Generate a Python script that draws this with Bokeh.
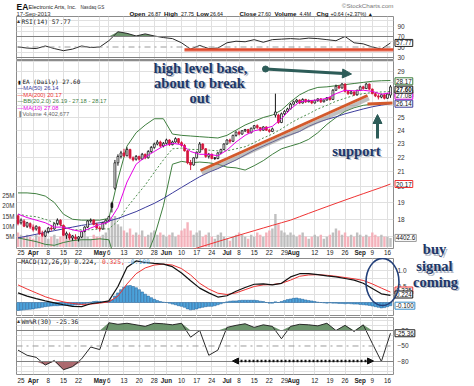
import math
import numpy as np
import pandas as pd
from bokeh.plotting import figure
from bokeh.layouts import column
from bokeh.models import (Range1d, LinearAxis, FixedTicker, ColumnDataSource, Arrow,
                          NormalHead, Span, Grid, LinearScale)
from bokeh.core.properties import value
from bokeh.embed import file_html
from bokeh.resources import INLINE

# ---------------- data ----------------
holidays = ["2013-03-29", "2013-05-27", "2013-07-04", "2013-09-02"]
trade_dates = [d.strftime("%Y-%m-%d") for d in pd.bdate_range("2013-03-22", "2013-09-17")
               if d.strftime("%Y-%m-%d") not in holidays]

tick_dates = ["2013-03-25", "2013-04-01", "2013-04-08", "2013-04-15", "2013-04-22",
              "2013-05-01", "2013-05-06", "2013-05-13", "2013-05-20", "2013-05-28",
              "2013-06-03", "2013-06-10", "2013-06-17", "2013-06-24", "2013-07-01",
              "2013-07-08", "2013-07-15", "2013-07-22", "2013-07-29", "2013-08-01",
              "2013-08-12", "2013-08-19", "2013-08-26", "2013-09-03", "2013-09-09",
              "2013-09-16"]
tick_labels = ["25", "Apr", "8", "15", "22", "May", "6", "13", "20", "28", "Jun", "10",
               "17", "24", "Jul", "8", "15", "22", "29", "Aug", "12", "19", "26", "Sep",
               "9", "16"]

opens = [18.20, 17.80, 17.90, 17.60, 17.75, 17.55, 17.45, 17.55, 17.20, 17.05,
         17.30, 17.50, 17.45, 17.75, 17.95, 17.65, 17.10, 17.15, 16.95, 17.00,
         16.90, 17.00, 17.30, 17.55, 17.90, 17.95, 17.70, 17.50, 17.45, 17.80,
         17.95, 18.95, 19.90, 21.60, 22.05, 22.30, 22.10, 22.55, 21.95, 21.85,
         22.05, 21.85, 22.20, 21.95, 22.40, 22.70, 22.95, 23.10, 22.80, 23.00,
         23.25, 22.90, 23.10, 23.35, 23.05, 22.85, 22.45, 21.60, 21.45, 21.95,
         22.35, 22.95, 22.60, 22.05, 22.20, 21.95, 21.90, 22.30, 22.55, 22.95,
         23.25, 23.15, 23.60, 23.85, 23.70, 23.95, 24.05, 23.80, 24.15, 24.35,
         24.20, 24.00, 24.25, 24.00, 23.90, 25.20, 25.20, 24.60, 25.30, 25.50,
         25.70, 26.10, 26.30, 26.45, 26.20, 26.50, 26.30, 26.40, 26.20, 26.40,
         26.55, 26.30, 26.45, 26.65, 26.50, 27.30, 27.65, 27.50, 27.85, 27.20,
         27.00, 27.15, 26.90, 27.30, 27.60, 27.45, 27.85, 27.40, 27.00, 26.80,
         26.70, 26.90, 26.60, 26.87]
highs = [18.28, 18.05, 18.00, 17.85, 17.82, 17.70, 17.65, 17.60, 17.35, 17.40,
         17.55, 17.65, 17.80, 18.05, 18.00, 17.70, 17.30, 17.25, 17.10, 17.15,
         17.05, 17.35, 17.60, 17.95, 18.05, 18.00, 17.80, 17.60, 17.85, 18.00,
         18.20, 19.05, 21.80, 22.20, 22.45, 22.60, 22.70, 22.60, 22.05, 22.15,
         22.10, 22.30, 22.25, 22.50, 22.80, 23.05, 23.25, 23.20, 23.10, 23.35,
         23.30, 23.20, 23.45, 23.40, 23.15, 22.95, 22.50, 21.80, 22.00, 22.40,
         23.10, 23.00, 22.65, 22.30, 22.25, 22.00, 22.35, 22.60, 23.00, 23.30,
         23.35, 23.65, 23.90, 23.95, 24.00, 24.10, 24.10, 24.20, 24.40, 24.45,
         24.25, 24.30, 24.30, 24.10, 24.20, 27.00, 25.30, 25.40, 25.60, 25.80,
         26.20, 26.40, 26.55, 26.50, 26.60, 26.55, 26.50, 26.45, 26.50, 26.60,
         26.60, 26.50, 26.70, 26.70, 27.40, 27.80, 27.75, 27.95, 27.90, 27.30,
         27.25, 27.20, 27.35, 27.70, 27.70, 27.95, 27.90, 27.45, 27.10, 26.95,
         27.00, 26.95, 27.05, 27.75]
lows = [17.65, 17.70, 17.55, 17.50, 17.45, 17.30, 17.35, 17.10, 17.00, 17.00,
        17.20, 17.35, 17.40, 17.65, 17.60, 17.05, 16.90, 16.85, 16.80, 16.85,
        16.75, 16.95, 17.25, 17.50, 17.80, 17.65, 17.45, 17.30, 17.40, 17.70,
        17.85, 18.40, 19.80, 21.40, 21.90, 22.00, 22.05, 21.85, 21.70, 21.75,
        21.75, 21.80, 21.85, 21.90, 22.30, 22.60, 22.85, 22.70, 22.70, 22.90,
        22.80, 22.85, 23.05, 22.95, 22.75, 22.40, 21.50, 21.10, 21.40, 21.90,
        22.30, 22.50, 21.95, 21.90, 21.85, 21.80, 21.85, 22.20, 22.50, 22.90,
        23.00, 23.10, 23.50, 23.60, 23.65, 23.85, 23.75, 23.75, 24.05, 24.10,
        23.90, 23.95, 23.95, 23.80, 23.85, 25.00, 24.50, 24.55, 25.20, 25.40,
        25.65, 26.00, 26.20, 26.10, 26.15, 26.20, 26.25, 26.10, 26.15, 26.30,
        26.20, 26.25, 26.40, 26.40, 26.45, 27.25, 27.40, 27.45, 27.10, 26.90,
        26.95, 26.80, 26.85, 27.25, 27.35, 27.40, 27.30, 26.95, 26.70, 26.50,
        26.60, 26.50, 26.55, 26.64]
closes = [17.75, 17.95, 17.60, 17.80, 17.55, 17.40, 17.60, 17.20, 17.10, 17.30,
          17.50, 17.45, 17.75, 17.95, 17.70, 17.10, 17.20, 16.95, 17.05, 16.90,
          17.00, 17.30, 17.55, 17.90, 17.95, 17.70, 17.50, 17.45, 17.80, 17.95,
          18.15, 18.70, 21.60, 22.05, 22.30, 22.10, 22.55, 21.95, 21.80, 22.05,
          21.85, 22.20, 21.95, 22.40, 22.70, 22.95, 23.10, 22.80, 23.00, 23.25,
          22.90, 23.10, 23.35, 23.05, 22.85, 22.45, 21.60, 21.45, 21.95, 22.35,
          22.95, 22.60, 22.05, 22.20, 21.90, 21.90, 22.30, 22.55, 22.95, 23.25,
          23.15, 23.60, 23.85, 23.70, 23.95, 24.05, 23.80, 24.15, 24.35, 24.20,
          24.00, 24.25, 24.00, 23.90, 24.10, 25.45, 24.60, 25.30, 25.50, 25.70,
          26.10, 26.30, 26.45, 26.20, 26.50, 26.30, 26.40, 26.20, 26.40, 26.55,
          26.30, 26.45, 26.65, 26.50, 27.30, 27.65, 27.50, 27.85, 27.20, 27.00,
          27.15, 26.90, 27.30, 27.60, 27.45, 27.85, 27.40, 27.00, 26.80, 26.70,
          26.90, 26.60, 26.96, 27.60]
volume_m = [7, 6, 5, 6, 5, 4, 6, 5, 6, 5,
            4, 5, 6, 4, 5, 7, 6, 5, 6, 4,
            5, 6, 7, 5, 4, 6, 5, 5, 6, 7,
            9, 14, 15, 11, 10, 8, 7, 9, 6, 7,
            6, 8, 5, 6, 7, 8, 6, 7, 6, 5,
            6, 7, 5, 6, 8, 9, 12, 8, 6, 7,
            8, 5, 6, 7, 5, 4, 6, 7, 5, 4,
            3, 5, 6, 7, 6, 5, 4, 6, 5, 7,
            6, 5, 7, 8, 9, 16, 11, 8, 7, 6,
            7, 6, 5, 6, 7, 5, 4, 5, 6, 5,
            6, 4, 5, 6, 7, 9, 8, 6, 7, 5,
            6, 5, 7, 6, 5, 6, 5, 7, 6, 5,
            6, 5, 5, 4.4]

# indicator readings, one every third trading day
sample_idx = list(range(0, 124, 3))
ma10 = [18.3, 18.1, 17.95, 17.8, 17.55, 17.55, 17.4, 17.3, 17.5, 17.7,
        17.85, 18.7, 20.3, 21.5, 22.0, 22.4, 22.8, 23.0, 22.9, 22.4,
        22.2, 22.2, 22.1, 22.5, 23.1, 23.6, 23.95, 24.1, 24.3, 24.9,
        25.7, 26.3, 26.4, 26.45, 26.6, 27.0, 27.3, 27.25, 27.3, 27.2,
        26.95, 27.08]
ma50 = [16.95, 17.05, 17.15, 17.25, 17.35, 17.45, 17.55, 17.65, 17.72, 17.8,
        17.9, 18.05, 18.25, 18.45, 18.7, 18.95, 19.25, 19.6, 19.95, 20.3,
        20.65, 20.95, 21.2, 21.5, 21.8, 22.15, 22.5, 22.8, 23.1, 23.4,
        23.65, 23.9, 24.3, 24.6, 24.85, 25.05, 25.3, 25.5, 25.7, 25.88,
        26.02, 26.14]
ma200_idx = list(range(57, 124, 3))
ma200 = [16.3, 16.45, 16.6, 16.75, 16.9, 17.05, 17.2, 17.35, 17.5, 17.65,
         17.8, 17.95, 18.15, 18.35, 18.55, 18.75, 18.95, 19.15, 19.35, 19.55,
         19.75, 19.95, 20.17]
bb_upper = [19.6, 19.6, 19.55, 19.4, 19.0, 18.3, 18.0, 17.95, 17.95, 17.95,
            18.05, 20.5, 22.8, 23.8, 24.4, 24.9, 24.9, 23.7, 23.6, 23.55,
            23.5, 23.45, 23.4, 23.6, 24.0, 24.4, 24.7, 25.0, 25.2, 25.6,
            26.3, 26.9, 27.3, 27.55, 27.6, 27.7, 27.8, 27.9, 28.0, 28.1,
            28.15, 28.17]
bb_mid = [18.3, 18.2, 18.15, 18.0, 17.8, 17.6, 17.4, 17.4, 17.4, 17.45,
          17.45, 17.9, 18.7, 19.4, 20.1, 20.95, 21.8, 22.6, 22.65, 22.55,
          22.55, 22.5, 22.45, 22.45, 22.6, 22.75, 23.05, 23.4, 23.7, 24.1,
          24.55, 24.95, 25.3, 25.7, 26.0, 26.35, 26.6, 26.85, 27.0, 27.1,
          27.15, 27.18]
bb_lower = [16.95, 16.85, 16.75, 16.6, 16.55, 16.7, 16.8, 16.85, 16.85, 16.9,
            16.85, 15.3, 14.6, 15.0, 15.8, 17.0, 18.8, 21.5, 21.7, 21.6,
            21.65, 21.6, 21.5, 21.3, 21.25, 21.1, 21.4, 21.75, 22.2, 22.6,
            22.8, 23.0, 23.3, 23.8, 24.45, 25.0, 25.5, 25.8, 26.0, 26.1,
            26.15, 26.19]
rsi14 = [50, 48, 47, 52, 47, 43, 46, 52, 49, 50,
         62, 79, 76, 71, 75, 71, 68, 66, 58, 46,
         53, 47, 48, 58, 61, 60, 64, 59, 64, 65,
         66, 65, 67, 66, 64, 62, 70, 58, 56, 50,
         46, 57.77]
macd_line = [0.30, 0.20, 0.12, 0.05, -0.01, -0.07, -0.12, -0.13, -0.04, 0.0,
             0.05, 0.5, 1.1, 1.3, 1.25, 1.22, 1.2, 1.12, 0.92, 0.68,
             0.45, 0.3, 0.17, 0.21, 0.35, 0.47, 0.57, 0.58, 0.55, 0.6,
             0.8, 0.9, 0.9, 0.87, 0.83, 0.8, 0.75, 0.7, 0.6, 0.44,
             0.27, 0.224]
macd_signal = [0.55, 0.42, 0.3, 0.18, 0.09, 0.02, -0.03, -0.06, -0.05, -0.02,
               0.02, 0.2, 0.58, 0.9, 1.08, 1.17, 1.2, 1.17, 1.06, 0.86,
               0.6, 0.42, 0.29, 0.25, 0.3, 0.4, 0.5, 0.55, 0.56, 0.6,
               0.7, 0.82, 0.86, 0.87, 0.85, 0.82, 0.78, 0.74, 0.69, 0.58,
               0.45, 0.325]
macd_hist = [-0.25, -0.24, -0.23, -0.22, -0.21, -0.20, -0.18, -0.17, -0.15, -0.13, -0.12, -0.11, -0.10, -0.10, -0.09,
             -0.09, -0.09, -0.10, -0.09, -0.08, -0.07, -0.06, -0.04, -0.02, 0.01, 0.03, 0.04, 0.03, 0.02, 0.02,
             0.03, 0.08, 0.20, 0.30, 0.40, 0.48, 0.52, 0.53, 0.50, 0.46, 0.40, 0.33, 0.26, 0.20, 0.15,
             0.10, 0.06, 0.03, 0.01, 0.00, -0.02, -0.05, -0.07, -0.10, -0.12, -0.15, -0.20, -0.23, -0.22, -0.20,
             -0.17, -0.15, -0.13, -0.12, -0.12, -0.10, -0.07, -0.04, -0.01, 0.02, 0.04, 0.05, 0.05, 0.06, 0.07,
             0.07, 0.07, 0.07, 0.07, 0.06, 0.04, 0.03, 0.00, -0.02, -0.02, 0.02, 0.00, 0.03, 0.06, 0.09,
             0.11, 0.13, 0.14, 0.12, 0.10, 0.08, 0.06, 0.05, 0.03, 0.01, 0.00, -0.01, -0.02, -0.01, -0.02,
             -0.02, -0.03, -0.03, -0.04, -0.03, -0.04, -0.05, -0.05, -0.06, -0.07, -0.08, -0.09, -0.11, -0.13, -0.15,
             -0.17, -0.16, -0.13, -0.10]
willr30 = [-58, -68, -72, -87, -78, -96, -90, -75, -52, -57,
           -5, -8, -6, -9, -12, -6, -7, -9, -6, -33,
           -20, -68, -58, -14, -10, -7, -14, -9, -12, -36,
           -12, -8, -9, -11, -6, -20, -10, -22, -9, -45,
           -80, -25.36]

vol_ticks = [5, 10, 15, 20, 25]
vol_tick_labels = ["5M", "10M", "15M", "20M", "25M"]
price_ticks = [18, 19, 20, 21, 22, 23, 24, 25, 29]
price_grid = list(range(17, 31))
rsi_ticks = [30, 50, 70, 90]
macd_ticks = [0.5, 1.0]
wr_ticks = [-80, -50, -20]

# ---------------- layout helpers (page pixels) ----------------
FX0, FW = 16, 377
XR0, XR1 = -0.5, 124.0
def xd(px): return XR0 + (px - FX0) * (XR1 - XR0) / FW
RSI_P = (16, 43, 26.2, 108.1, False)
PRICE_P = (60, 188, 16.38, 30.05, True)
MACD_P = (258, 58, -0.4375, 1.375, False)
WR_P = (317, 57, -105.2, 5.16, False)
VOL_LO, VOL_HI = -0.73, 90.5
def yd(panel, py):
    top, hh, lo, hi, lg = panel
    f = (py - top) / hh
    if lg:
        return math.exp(math.log(hi) - f * (math.log(hi) - math.log(lo)))
    return hi - f * (hi - lo)

day = np.arange(len(trade_dates))
tick_idx = [trade_dates.index(d) for d in tick_dates]
is_month = [t.isalpha() for t in tick_labels]

x_range = Range1d(XR0, XR1)
GRID_C = "#e0e0e0"
SANS = "Liberation Sans"
MONO = "DejaVu Sans Mono"

def panel_fig(panel, top_b, bot_b):
    top, hh, lo, hi, lg = panel
    p = figure(width=474, height=top_b + hh + bot_b, x_range=x_range, y_range=Range1d(lo, hi),
               y_axis_type=("log" if lg else "linear"),
               x_axis_location=None, y_axis_location=None,
               min_border_left=FX0, min_border_right=474 - FX0 - FW,
               min_border_top=top_b, min_border_bottom=bot_b,
               output_backend="svg", toolbar_location=None,
               outline_line_color="#8c8c8c", background_fill_color="white",
               border_fill_color="white")
    p.grid.visible = False
    p.add_layout(Grid(dimension=0, ticker=FixedTicker(ticks=tick_idx),
                      grid_line_color=GRID_C, grid_line_width=1))
    return p

def right_axis(p, ticks, overrides=None):
    ax = LinearAxis(ticker=FixedTicker(ticks=ticks), axis_line_color=None,
                    major_tick_in=0, major_tick_out=0, minor_tick_line_color=None,
                    major_label_text_font_size="6.5px", major_label_text_color="#333333",
                    major_label_text_font=SANS, major_label_standoff=4)
    if overrides:
        ax.major_label_overrides = overrides
    p.add_layout(ax, "right")

def txt(p, px, y, text, size="6px", color="#222222", bold=False, align="left",
        font=SANS, **kw):
    p.text(x=[xd(px)], y=[y], text=[text], text_font=value(font),
           text_font_size=value(size), text_color=color,
           text_font_style=value("bold" if bold else "normal"),
           text_align=align, text_baseline="middle", level="overlay", **kw)

def box(p, y, text, color, bold=False, **kw):
    p.text(x=[xd(394.5)], y=[y], text=[text], text_font=value(SANS),
           text_font_size=value("6.3px"), text_color="#111111",
           text_font_style=value("bold" if bold else "normal"),
           text_align="left", text_baseline="middle",
           border_line_color=color, border_line_width=1,
           background_fill_color="white", padding=1, level="overlay", **kw)

def date_labels(p, ypos):
    for bold in (False, True):
        xs = [i for i, m in zip(tick_idx, is_month) if m == bold]
        ts = [t for t, m in zip(tick_labels, is_month) if m == bold]
        p.text(x=xs, y=[ypos] * len(xs), text=ts, text_align="center",
               text_baseline="middle", text_font=value(SANS),
               text_font_size=value("6.3px"),
               text_font_style=value("bold" if bold else "normal"),
               text_color="#222222", level="overlay")

NAVY = "#1d3767"
def fancy(p, px, y, text, size="14.5px"):
    for col, off, alpha in (("#9aa4b4", 1.5, 0.75), (NAVY, 0, 1.0)):
        p.text(x=[xd(px)], y=[y], text=[text], text_font=value("Liberation Serif"),
               text_font_size=value(size), text_font_style=value("bold"),
               text_color=col, text_alpha=alpha, text_align="center",
               text_baseline="middle", x_offset=off, y_offset=off, level="overlay")

# ================= RSI panel (with header) =================
p_rsi = panel_fig(RSI_P, 16, 1)
p_rsi.add_layout(Grid(dimension=1, ticker=FixedTicker(ticks=[40, 60, 80, 90, 100]),
                      grid_line_color=GRID_C))
rsi_arr = np.array(rsi14, dtype=float)
p_rsi.varea(x=sample_idx, y1=70, y2=np.maximum(rsi_arr, 70), fill_color="#5d8a5d", fill_alpha=0.9)
p_rsi.add_layout(Span(location=70, dimension="width", line_color="#808080", line_width=1))
p_rsi.add_layout(Span(location=30, dimension="width", line_color="#808080", line_width=1))
p_rsi.add_layout(Span(location=50, dimension="width", line_color="#9a9a9a", line_width=1,
                      line_dash="dashdot"))
p_rsi.line(x=sample_idx, y=rsi14, line_color="#2a2a2a", line_width=1)
# hand-drawn red level line
p_rsi.segment(x0=[xd(184)], y0=[yd(RSI_P, 50.5)], x1=[xd(393)], y1=[yd(RSI_P, 50.5)],
              line_color="#f0b4aa", line_width=2)
p_rsi.segment(x0=[xd(184)], y0=[yd(RSI_P, 49)], x1=[xd(393)], y1=[yd(RSI_P, 49)],
              line_color="#e04a2c", line_width=2.5)
right_axis(p_rsi, rsi_ticks)
box(p_rsi, 57.77, "57.77", "#222222")
txt(p_rsi, 21, yd(RSI_P, 20.5), "RSI(14) 57.77", size="6.3px", font=MONO)
txt(p_rsi, 16.5, yd(RSI_P, 20.5), "\u25b4", size="6px", color="#333333")
# header
txt(p_rsi, 16, yd(RSI_P, 6.5), "EA", size="8.5px", bold=True, color="#111111")
txt(p_rsi, 28, yd(RSI_P, 6.5), "Electronic Arts, Inc.", size="5.6px", color="#222222")
txt(p_rsi, 80, yd(RSI_P, 6.8), "Nasdaq GS", size="4.6px", color="#333333")
txt(p_rsi, 16, yd(RSI_P, 13), "17-Sep-2013", size="5.9px", color="#333333")
txt(p_rsi, 393, yd(RSI_P, 4.5), "\u00a9StockCharts.com", size="6.2px", color="#777777",
    align="right")
hdr = [(129, "Open", True), (147.5, "26.87", False), (163.5, "High", True),
       (180.5, "27.75", False), (196, "Low", True), (209.5, "26.64", False),
       (239, "Close", True), (257.5, "27.60", False), (274, "Volume", True),
       (299, "4.4M", False), (316, "Chg", True), (330, "+0.64 (+2.37%) \u25b2", False)]
for px_, t, b in hdr:
    txt(p_rsi, px_, yd(RSI_P, 13), t, size=("6.2px" if b else "5.2px"), bold=b,
        color="#111111")

# ================= price panel =================
p_px = panel_fig(PRICE_P, 0, 10)
p_px.extra_y_ranges = {"vol": Range1d(VOL_LO, VOL_HI)}
p_px.extra_y_scales = {"vol": LinearScale()}
p_px.add_layout(Grid(dimension=1, ticker=FixedTicker(ticks=price_grid), grid_line_color=GRID_C))

o = np.array(opens); h = np.array(highs); lo_ = np.array(lows); c = np.array(closes)
prev = np.concatenate([[o[0]], c[:-1]])
up = c >= prev
ccol = np.where(up, "#151515", "#d4173d")
cfill = np.where(c > o, "white", ccol)
vcol = np.where(up, "#b5b5b5", "#f3a6b0")
src = ColumnDataSource(dict(x=day, h=h, l=lo_, top=np.maximum(o, c), bot=np.minimum(o, c),
                            col=ccol, fill=cfill, vol=volume_m, vcol=vcol))
p_px.vbar(x="x", top="vol", bottom=0, width=0.8, y_range_name="vol", fill_color="vcol",
          line_color=None, fill_alpha=0.85, source=src)
p_px.line(x=ma200_idx, y=ma200, line_color="#ee3333", line_width=1)
p_px.line(x=sample_idx, y=bb_upper, line_color="#3f7f3f", line_width=1)
p_px.line(x=sample_idx, y=bb_lower, line_color="#3f7f3f", line_width=1)
p_px.line(x=sample_idx, y=bb_mid, line_color="#4f8f4f", line_width=1, line_dash="2 2")
p_px.line(x=sample_idx, y=ma50, line_color="#3b3b9c", line_width=1)
p_px.segment(x0="x", y0="h", x1="x", y1="l", line_color="col", line_width=1, source=src)
p_px.vbar(x="x", top="top", bottom="bot", width=0.62, fill_color="fill", line_color="col",
          line_width=0.8, source=src)
p_px.line(x=sample_idx, y=ma10, line_color="#e600e6", line_width=1)

# hand drawn trend lines
p_px.line(x=[xd(201.5), xd(368.5)], y=[yd(PRICE_P, 173), yd(PRICE_P, 98)],
          line_color="#8c8c8c", line_width=4, line_alpha=0.55)
p_px.line(x=[xd(200), xd(367)], y=[yd(PRICE_P, 170), yd(PRICE_P, 95)],
          line_color="#d35a2c", line_width=3)
p_px.line(x=[xd(367), xd(392)], y=[yd(PRICE_P, 103.5), yd(PRICE_P, 102.5)],
          line_color="#d35a2c", line_width=3)

TEAL = "#2d5c58"
p_px.add_layout(Arrow(end=NormalHead(size=9, fill_color=TEAL, line_color=TEAL),
                      x_start=xd(265), y_start=yd(PRICE_P, 68.5), x_end=xd(351),
                      y_end=yd(PRICE_P, 73.5), line_color=TEAL, line_width=3))
p_px.scatter(x=[xd(265)], y=[yd(PRICE_P, 68.5)], size=6, color=TEAL)
p_px.add_layout(Arrow(end=NormalHead(size=9, fill_color=TEAL, line_color=TEAL),
                      x_start=xd(377), y_start=yd(PRICE_P, 138), x_end=xd(377),
                      y_end=yd(PRICE_P, 114), line_color=TEAL, line_width=3))
fancy(p_px, 200, yd(PRICE_P, 67), "high level base,")
fancy(p_px, 199, yd(PRICE_P, 82), "about to break")
fancy(p_px, 199, yd(PRICE_P, 97), "out")
fancy(p_px, 356, yd(PRICE_P, 150), "support")
fancy(p_px, 434, yd(PRICE_P, 248.5), "buy")

# legend
leg = [("EA (Daily) 27.60", "#111111", 81, MONO, "6px", 22),
       ("\u2014MA(50) 26.14", "#3b3b9c", 87.5, SANS, "5.8px", 17),
       ("\u2014MA(200) 20.17", "#ee3333", 94, SANS, "5.8px", 17),
       ("\u2014BB(20,2.0) 26.19 - 27.18 - 28.17", "#3f7f3f", 100.5, SANS, "5.8px", 17),
       ("\u2014MA(10) 27.08", "#e600e6", 107, SANS, "5.8px", 17),
       ("Volume 4,402,677", "#666666", 113.5, SANS, "5.8px", 22)]
for t, col, py_, f, s, px_ in leg:
    txt(p_px, px_, yd(PRICE_P, py_), t, size=s, color=col, font=f)
txt(p_px, 17, yd(PRICE_P, 81), "\u25ae", size="5px", color="#111111")
txt(p_px, 17, yd(PRICE_P, 113.5), "\u2590", size="5px", color="#888888")

right_axis(p_px, price_ticks)
p_px.text(x=[xd(14)] * len(vol_ticks), y=vol_ticks, text=vol_tick_labels,
          y_range_name="vol", text_align="right", text_baseline="middle",
          text_font=value(SANS), text_font_size=value("6.3px"), text_color="#333333",
          level="overlay")
box(p_px, 27.0, "27.18", "#3f7f3f")
box(p_px, 26.82, "27.08", "#e600e6")
box(p_px, 28.1, "28.17", "#3f7f3f")
box(p_px, 27.35, "27.60", "#111111", bold=True)
box(p_px, 26.14, "26.14", "#3b3b9c")
box(p_px, 20.17, "20.17", "#ee3333")
box(p_px, 4.4, "4402.6", "#999999", y_range_name="vol")
date_labels(p_px, yd(PRICE_P, 252))

# ================= MACD panel =================
p_macd = panel_fig(MACD_P, 0, 0)
p_macd.add_layout(Grid(dimension=1, ticker=FixedTicker(ticks=[-0.25, 0.0, 0.25, 0.5, 0.75, 1.0, 1.25]),
                       grid_line_color=GRID_C))
p_macd.vbar(x=day, top=macd_hist, bottom=0, width=0.9, fill_color="#4ea4dc",
            line_color="#1f5f99", line_width=0.5)
p_macd.line(x=sample_idx, y=macd_signal, line_color="#ee3333", line_width=1)
p_macd.line(x=sample_idx, y=macd_line, line_color="#111111", line_width=1.2)
right_axis(p_macd, macd_ticks, {0.5: "0.5", 1.0: "1.0"})
box(p_macd, 0.375, "0.325", "#ee3333")
box(p_macd, 0.25, "0.224", "#111111")
box(p_macd, -0.10, "-0.100", "#3a8fc8")
txt(p_macd, 17, yd(MACD_P, 260.5), "\u2014MACD(12,26,9) 0.224,", size="6.3px", font=MONO,
    color="#111111")
txt(p_macd, 101.5, yd(MACD_P, 260.5), "0.325,", size="6.3px", font=MONO, color="#ee3333")
txt(p_macd, 126.5, yd(MACD_P, 260.5), "-0.100", size="6.3px", font=MONO, color="#4ea4dc")
ell_w = 33 * (XR1 - XR0) / FW
ell_h = yd(MACD_P, 258) - yd(MACD_P, 305)
p_macd.ellipse(x=[xd(382)], y=[yd(MACD_P, 281.5)], width=ell_w, height=ell_h,
               fill_color=None, line_color="#23407a", line_width=1.6, level="overlay")
fancy(p_macd, 434, yd(MACD_P, 265.5), "signal")
fancy(p_macd, 435, yd(MACD_P, 281), "coming")

# ================= Williams %R panel =================
p_wr = panel_fig(WR_P, 1, 12)
p_wr.add_layout(Grid(dimension=1, ticker=FixedTicker(ticks=[-100, -90, -70, -60, -40, -30, -10, 0]),
                     grid_line_color=GRID_C))
wr_arr = np.array(willr30, dtype=float)
p_wr.varea(x=sample_idx, y1=-20, y2=np.maximum(wr_arr, -20), fill_color="#5d8a5d", fill_alpha=0.9)
p_wr.varea(x=sample_idx, y1=-80, y2=np.minimum(wr_arr, -80), fill_color="#a35a5f", fill_alpha=0.9)
p_wr.add_layout(Span(location=-20, dimension="width", line_color="#808080", line_width=1))
p_wr.add_layout(Span(location=-80, dimension="width", line_color="#808080", line_width=1))
p_wr.add_layout(Span(location=-50, dimension="width", line_color="#9a9a9a", line_width=1,
                     line_dash="dashdot"))
p_wr.line(x=sample_idx, y=willr30, line_color="#2a2a2a", line_width=1)
p_wr.add_layout(Arrow(start=NormalHead(size=6, fill_color="#111111", line_color="#111111"),
                      end=NormalHead(size=6, fill_color="#111111", line_color="#111111"),
                      x_start=xd(232), y_start=yd(WR_P, 360.5), x_end=xd(373),
                      y_end=yd(WR_P, 360.5), line_color="#111111", line_width=2.5,
                      line_dash="2 2"))
right_axis(p_wr, wr_ticks)
box(p_wr, -25.36, "-25.36", "#222222")
txt(p_wr, 21, yd(WR_P, 320.7), "Wm%R(30) -25.36", size="6.3px", font=MONO)
txt(p_wr, 16.5, yd(WR_P, 320.7), "\u25b4", size="6px", color="#333333")
date_labels(p_wr, yd(WR_P, 379.5))

layout = column(p_rsi, p_px, p_macd, p_wr, spacing=0)
open("out.html", "w").write(file_html(layout, INLINE, title="EA"))
